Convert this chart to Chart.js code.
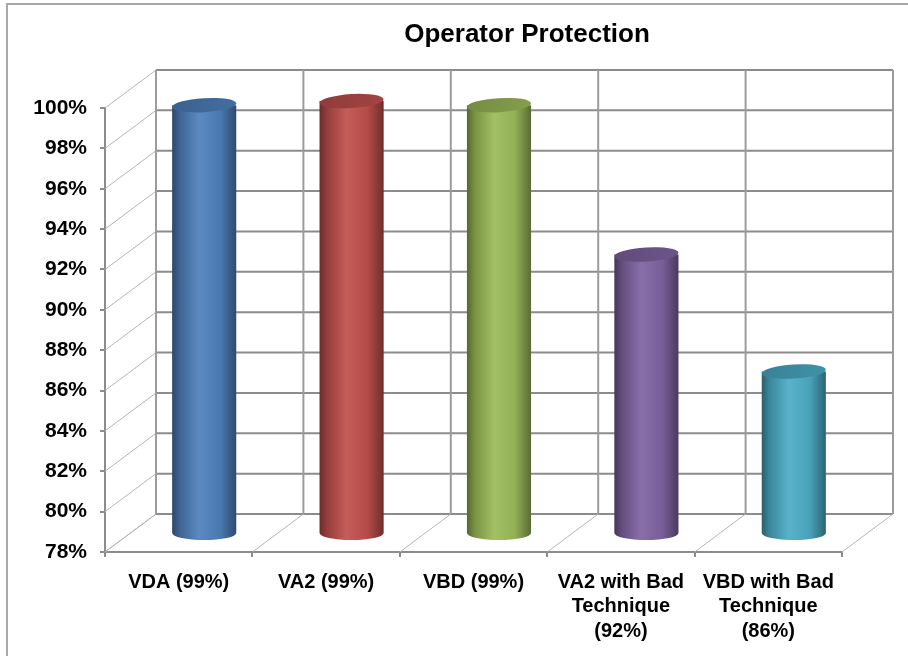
<!DOCTYPE html>
<html>
<head>
<meta charset="utf-8">
<title>Operator Protection</title>
<script src="https://cdn.jsdelivr.net/npm/chart.js@4.4.0/dist/chart.umd.min.js"></script>
<style>
  html, body { margin: 0; padding: 0; background: #fff; }
  #wrap { width: 908px; height: 656px; }
</style>
</head>
<body>
<div id="wrap"><canvas id="chart" width="908" height="656"></canvas></div>
<script>
// ── Data ───────────────────────────────────────────────────
const CATEGORIES = [
  ['VDA (99%)'],
  ['VA2 (99%)'],
  ['VBD (99%)'],
  ['VA2 with Bad', 'Technique', '(92%)'],
  ['VBD with Bad', 'Technique', '(86%)']
];
const PROTECTION = [99.2, 99.4, 99.2, 91.8, 86.0];
const Y_MIN = 78;
const Y_MAX = 100;
const Y_STEP = 2;
const TITLE = 'Operator Protection';

// ── Style ──────────────────────────────────────────────────
const BAR_COLORS = ['#4f81bd', '#c0504d', '#9bbb59', '#8064a2', '#4bacc6'];
const FONT = '"Liberation Sans", Arial, sans-serif';
const DEPTH_X = 51;   // back wall offset, px
const DEPTH_Y = 38;

function shade(hex, f) {
  const n = parseInt(hex.slice(1), 16);
  let r = n >> 16, g = (n >> 8) & 255, b = n & 255;
  if (f < 0) { r *= 1 + f; g *= 1 + f; b *= 1 + f; }
  else { r += (255 - r) * f; g += (255 - g) * f; b += (255 - b) * f; }
  return `rgb(${Math.round(r)},${Math.round(g)},${Math.round(b)})`;
}

function drawCylinder(ctx, cx, top, base, w, color) {
  const rx = w / 2, ry = 7;
  const left = cx - rx;
  const grad = ctx.createLinearGradient(left, 0, left + w, 0);
  grad.addColorStop(0, shade(color, -0.45));
  grad.addColorStop(0.12, shade(color, -0.22));
  grad.addColorStop(0.42, shade(color, 0.07));
  grad.addColorStop(0.75, shade(color, -0.06));
  grad.addColorStop(1, shade(color, -0.42));

  ctx.save();
  ctx.beginPath();
  ctx.moveTo(left, top);
  ctx.lineTo(left, base);
  ctx.ellipse(cx, base, rx, ry, 0, Math.PI, 0, true);
  ctx.lineTo(left + w, top);
  ctx.closePath();
  ctx.fillStyle = grad;
  ctx.fill();

  // top face
  const tg = ctx.createLinearGradient(left, top - ry, left + w, top + ry);
  tg.addColorStop(0, shade(color, -0.25));
  tg.addColorStop(1, shade(color, -0.15));
  ctx.beginPath();
  ctx.ellipse(cx, top, rx, ry, -0.06, 0, Math.PI * 2);
  ctx.fillStyle = tg;
  ctx.fill();
  ctx.restore();
}

// ── 3D wall / cylinder plugin ──────────────────────────────
const depthPlugin = {
  id: 'depth3d',
  beforeDraw(chart) {
    const ctx = chart.ctx;
    ctx.save();
    ctx.strokeStyle = '#a8a8a8';
    ctx.lineWidth = 2;
    ctx.strokeRect(7, 4, 1000, 1000);
    ctx.restore();
  },
  beforeDatasetsDraw(chart) {
    const { ctx, chartArea: a, scales: { x, y } } = chart;
    ctx.save();
    // diagonal lines on side wall + horizontal gridlines on back wall
    y.ticks.forEach(t => {
      const py = y.getPixelForValue(t.value);
      ctx.strokeStyle = '#b4b4b4';
      ctx.lineWidth = 1;
      ctx.beginPath();
      ctx.moveTo(a.left, py);
      ctx.lineTo(a.left + DEPTH_X, py - DEPTH_Y);
      ctx.stroke();
      ctx.strokeStyle = '#8c8c8c';
      ctx.lineWidth = 2;
      ctx.beginPath();
      ctx.moveTo(a.left + DEPTH_X, py - DEPTH_Y);
      ctx.lineTo(a.right + DEPTH_X, py - DEPTH_Y);
      ctx.stroke();
    });
    // category boundaries: floor diagonals + vertical back wall lines
    const topY = y.getPixelForValue(Y_MAX) - DEPTH_Y;
    const botY = y.getPixelForValue(Y_MIN) - DEPTH_Y;
    for (let i = 0; i <= CATEGORIES.length; i++) {
      const px = x.getPixelForValue(i - 0.5);
      ctx.strokeStyle = '#b4b4b4';
      ctx.lineWidth = 1;
      ctx.beginPath();
      ctx.moveTo(px, a.bottom);
      ctx.lineTo(px + DEPTH_X, a.bottom - DEPTH_Y);
      ctx.stroke();
      ctx.strokeStyle = '#9c9c9c';
      ctx.lineWidth = 2;
      ctx.beginPath();
      ctx.moveTo(px + DEPTH_X, topY);
      ctx.lineTo(px + DEPTH_X, botY);
      ctx.stroke();
    }
    ctx.restore();
  },
  afterDatasetsDraw(chart) {
    const ctx = chart.ctx;
    const floor = chart.scales.y.getPixelForValue(Y_MIN);
    chart.getDatasetMeta(0).data.forEach((bar, i) => {
      const p = bar.getProps(['x', 'y', 'base', 'width'], true);
      const base = Math.min(p.base, floor);
      drawCylinder(ctx, p.x + DEPTH_X / 2, p.y - DEPTH_Y / 2, base - DEPTH_Y / 2,
                   p.width, BAR_COLORS[i]);
    });
  },
  afterDraw(chart) {
    const ctx = chart.ctx;
    ctx.save();
    ctx.font = `bold 26px ${FONT}`;
    ctx.fillStyle = '#000';
    ctx.textAlign = 'center';
    ctx.textBaseline = 'middle';
    ctx.fillText(TITLE, 527, 35);
    ctx.restore();
  }
};

// ── Chart ──────────────────────────────────────────────────
const xFont = { family: FONT, size: 20, weight: 'bold', lineHeight: 1.22 };
const yFont = { family: FONT, size: 21, weight: 'bold' };

new Chart(document.getElementById('chart'), {
  type: 'bar',
  data: {
    labels: CATEGORIES,
    datasets: [{
      data: PROTECTION,
      backgroundColor: 'rgba(0,0,0,0)',
      borderWidth: 0,
      barPercentage: 0.435,
      categoryPercentage: 1
    }]
  },
  options: {
    responsive: false,
    animation: false,
    layout: { padding: { top: 108, right: 66, bottom: 0, left: 0 } },
    plugins: {
      legend: { display: false },
      tooltip: { enabled: false },
      title: { display: false }
    },
    scales: {
      x: {
        ticks: { font: xFont, color: '#000', padding: 13, maxRotation: 0, autoSkip: false },
        grid: { drawOnChartArea: false, tickLength: 5, color: '#8c8c8c', lineWidth: 2, offset: true },
        border: { color: '#8c8c8c', width: 2 },
        afterFit: s => { s.height = 104; }
      },
      y: {
        min: Y_MIN,
        max: Y_MAX,
        ticks: {
          stepSize: Y_STEP,
          callback: v => v + '%',
          font: yFont,
          color: '#000',
          padding: 13
        },
        grid: { drawOnChartArea: false, tickLength: 5, color: '#8c8c8c', lineWidth: 2 },
        border: { color: '#8c8c8c', width: 2 },
        afterFit: s => { s.width = 105; }
      }
    }
  },
  plugins: [depthPlugin]
});
</script>
</body>
</html>
